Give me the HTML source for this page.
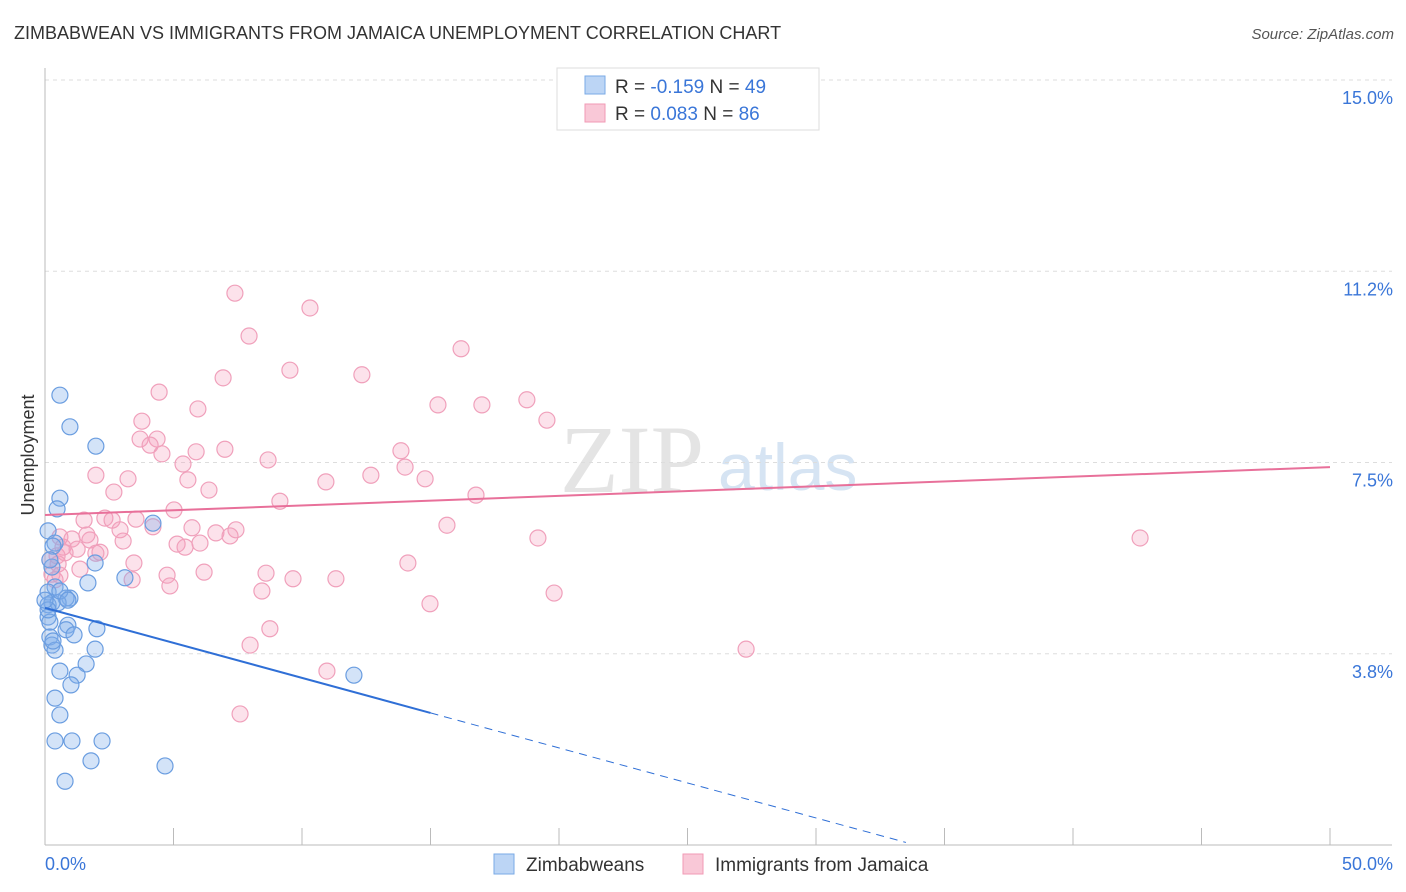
<!DOCTYPE html>
<html><head><meta charset="utf-8"><style>
body{margin:0;background:#fff;font-family:"Liberation Sans",sans-serif}
#c{position:relative;width:1406px;height:892px;overflow:hidden}
</style></head><body>
<div id="c">
<svg id="s" width="1406" height="892" xmlns="http://www.w3.org/2000/svg">
<text x="14" y="39" font-size="18" fill="#333">ZIMBABWEAN VS IMMIGRANTS FROM JAMAICA UNEMPLOYMENT CORRELATION CHART</text>
<text x="1394" y="39" font-size="15" fill="#555" font-style="italic" text-anchor="end">Source: ZipAtlas.com</text>
<text x="560" y="492" font-size="96" fill="#e4e4e4" font-family="Liberation Serif">ZIP</text>
<text x="718" y="490" font-size="66" fill="#d6e4f3">atlas</text>
<g id="grid"></g><g id="axes"></g><g id="pts"></g><g id="trends"></g>
<text x="34" y="455" font-size="18" fill="#333" transform="rotate(-90 34 455)" text-anchor="middle">Unemployment</text>
<g>
<rect x="557" y="68" width="262" height="62" fill="#fff" stroke="#ddd"/>
<rect x="585" y="76" width="20" height="18" fill="#bcd5f5" stroke="#7aaae6"/>
<rect x="585" y="104" width="20" height="18" fill="#f9c8d7" stroke="#f19ab4"/>
<text x="615" y="93" font-size="19" fill="#333">R = <tspan fill="#3a76d8">-0.159</tspan>   N = <tspan fill="#3a76d8">49</tspan></text>
<text x="615" y="120" font-size="19" fill="#333">R =  <tspan fill="#3a76d8">0.083</tspan>   N = <tspan fill="#3a76d8">86</tspan></text>
</g>
<g>
<rect x="494" y="854" width="20" height="20" fill="#bcd5f5" stroke="#7aaae6"/>
<text x="526" y="871" font-size="19" fill="#333">Zimbabweans</text>
<rect x="683" y="854" width="20" height="20" fill="#f9c8d7" stroke="#f19ab4"/>
<text x="715" y="871" font-size="19" fill="#333">Immigrants from Jamaica</text>
</g>
</svg></div>
<script>
const yTicks=[3.8,7.5,11.2,15.0];
const yTickVals=[3.75,7.5,11.25,15];
const blueX=[0.58,0.97,1.98,0.58,0.47,0.12,0.39,0.31,1.95,0.27,3.11,4.2,1.67,0.39,0.12,0.97,0.82,0.27,0.12,0.51,0.12,0.19,0.89,0.82,2.02,1.13,0.19,0.27,0.39,1.95,1.6,0.58,1.25,1.01,0.39,0.58,0.39,1.05,2.22,1.79,4.67,0.78,12.02,0.12,0.19,0.0,0.58,0.89,0.31];
const blueY=[8.82,8.2,7.82,6.8,6.59,6.16,5.92,5.86,5.53,5.45,5.24,6.31,5.14,5.06,4.96,4.84,4.84,4.75,4.71,4.75,4.47,4.37,4.31,4.22,4.24,4.12,4.08,3.92,3.82,3.84,3.55,3.41,3.33,3.14,2.88,2.55,2.04,2.04,2.04,1.65,1.55,1.25,3.33,4.61,5.59,4.8,4.98,4.8,4.0];
const pinkX=[7.39,10.31,7.94,16.19,9.53,12.33,6.93,4.44,5.95,15.29,17.0,18.75,19.53,3.77,3.7,4.36,4.09,5.88,7.0,4.55,13.85,8.68,5.37,1.98,3.23,5.56,12.68,14.01,10.93,14.79,2.68,6.38,16.77,9.14,5.02,2.33,1.52,2.61,3.54,4.2,5.72,7.43,15.64,6.65,7.2,0.58,1.05,1.75,3.04,5.14,6.03,19.18,42.61,5.45,0.7,1.25,2.14,1.98,0.47,0.51,3.46,14.12,8.6,6.19,1.36,0.27,4.75,9.65,11.32,3.39,4.86,8.44,19.81,14.98,8.75,7.98,27.28,10.97,7.59,0.19,0.39,0.78,2.92,1.63,0.58];
const pinkY=[10.82,10.53,9.98,9.73,9.31,9.22,9.16,8.88,8.55,8.63,8.63,8.73,8.33,8.31,7.96,7.96,7.84,7.71,7.76,7.67,7.73,7.55,7.47,7.25,7.18,7.16,7.25,7.41,7.12,7.18,6.92,6.96,6.86,6.74,6.57,6.41,6.37,6.37,6.39,6.24,6.22,6.18,6.27,6.12,6.06,6.04,6.0,5.98,5.96,5.9,5.92,6.02,6.02,5.84,5.84,5.8,5.74,5.72,5.67,5.51,5.53,5.53,5.33,5.35,5.41,5.31,5.29,5.22,5.22,5.2,5.08,4.98,4.94,4.73,4.24,3.92,3.84,3.41,2.57,5.59,5.2,5.73,6.18,6.08,5.29];
const blueTrend=[0,4.65,15,2.59,33.5,0.05];
const pinkTrend=[0,6.47,50,7.41];
const NS='http://www.w3.org/2000/svg';
const X=v=>45+v*25.7, Y=v=>845-v*51;
function mk(t,a,p){const e=document.createElementNS(NS,t);for(const k in a)e.setAttribute(k,a[k]);p.appendChild(e);return e;}
const grid=document.getElementById('grid'),axes=document.getElementById('axes'),pts=document.getElementById('pts'),tr=document.getElementById('trends');
yTickVals.forEach((v,i)=>{
 const l=mk('line',{x1:45,x2:1392,y1:Y(v),y2:Y(v),stroke:'#ddd','stroke-dasharray':'4,4'},grid);
 
 
 const t=mk('text',{x:1393,y:Y(v)+24,'font-size':18,fill:'#3a76d8','text-anchor':'end'},axes);
 t.textContent=yTicks[i].toFixed(1)+'%';
 
 
});
const ax=mk('line',{x1:45,x2:1392,y1:845,y2:845,stroke:'#bbb'},axes);


const ay=mk('line',{x1:45,x2:45,y1:68,y2:845,stroke:'#bbb'},axes);


for(let i=0;i<=10;i++){const t=mk('line',{x1:X(i*5),x2:X(i*5),y1:828,y2:845,stroke:'#bbb'},axes);
 
 }
[['0.0%',45,'start'],['50.0%',1393,'end']].forEach(a=>{const t=mk('text',{x:a[1],y:870,'font-size':18,fill:'#3a76d8','text-anchor':a[2]},axes);t.textContent=a[0];
 
 });
pinkX.forEach((v,i)=>{const c=mk('circle',{cx:X(v),cy:Y(pinkY[i]),r:8,fill:'rgba(245,160,190,0.3)',stroke:'#f0a0bb','stroke-width':1.2},pts);
 
 });
blueX.forEach((v,i)=>{const c=mk('circle',{cx:X(v),cy:Y(blueY[i]),r:8,fill:'rgba(130,175,235,0.35)',stroke:'#6a9de0','stroke-width':1.2},pts);
 
 });
const b1=mk('line',{x1:X(blueTrend[0]),y1:Y(blueTrend[1]),x2:X(blueTrend[2]),y2:Y(blueTrend[3]),stroke:'#2f6fd6','stroke-width':2},tr);


const b2=mk('line',{x1:X(blueTrend[2]),y1:Y(blueTrend[3]),x2:X(blueTrend[4]),y2:Y(blueTrend[5]),stroke:'#2f6fd6','stroke-width':1,'stroke-dasharray':'8,6'},tr);


const p1=mk('line',{x1:X(pinkTrend[0]),y1:Y(pinkTrend[1]),x2:X(pinkTrend[2]),y2:Y(pinkTrend[3]),stroke:'#e8709a','stroke-width':2},tr);


</script>
</body></html>
